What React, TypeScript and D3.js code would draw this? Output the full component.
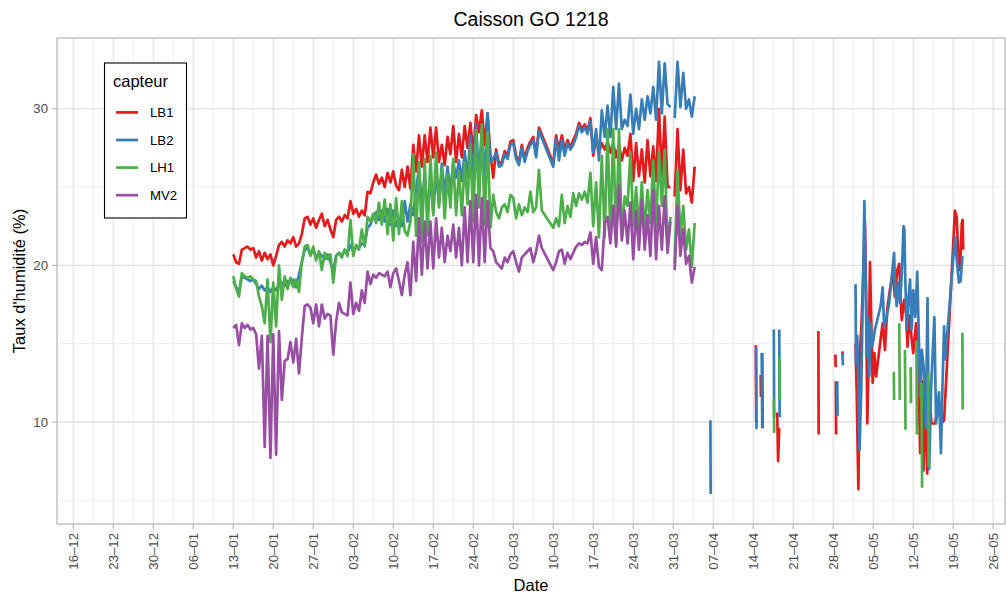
import * as d3 from 'd3';

// capteurs
const sensors = ['LB1', 'LB2', 'LH1', 'MV2'];
const colors = ['#E41A1C', '#377EB8', '#4DAF4A', '#984EA3'];

// relevés continus : un point toutes les 12 h (null = relevé manquant)
const STEP_HOURS = 12;
const mainStarts = ['2019-01-13T00:00:00Z', '2019-03-31T06:00:00Z'];

const lb1Main = [
  20.7, 20.2, 20.1, 21.0, 21.1, 21.2, 21.0, 21.1, 20.5, 20.9,
  20.3, 20.8, 20.4, 20.7, 20.0, 20.6, 21.3, 21.5, 21.2, 21.6,
  21.4, 21.8, 21.2, 21.4, 22.0, 23.0, 23.1, 22.6, 23.0, 22.4,
  22.9, 23.3, 22.5, 22.9, 22.3, 21.8, 22.9, 23.1, 22.8, 23.2,
  23.0, 24.1, 23.3, 23.6, 23.1, 23.5, 23.2, 24.7, 24.6, 25.3,
  25.8, 25.2, 25.6, 25.0, 25.9, 25.3, 26.0, 25.1, 24.8, 26.1,
  25.0, 26.3, 24.9, 27.7, 26.0, 28.3, 26.3, 28.3, 26.6, 28.8,
  26.9, 28.8, 26.6, 27.7, 26.4, 28.2, 27.1, 28.9, 26.6, 28.4,
  26.9, 28.9, 27.5, 29.1, 27.1, 29.6, 28.5, 29.9, 27.7, 29.7,
  27.1, 25.6, 27.4, 26.5, 26.6, 27.3, 27.0, 27.9, 28.0, 27.0,
  26.6, 27.7, 26.8, 27.5, 27.9, 28.2, 27.1, 28.8, null, null,
  null, null, 26.5, 28.3, 27.4, 28.3, 27.4, 28.0, 27.5, 28.0,
  28.4, 29.1, 28.7, 29.0, 28.6, 29.4, 27.0, 28.2, 27.2, 27.8,
  27.4, 27.9, 27.2, 27.8, 26.9, 27.7, 26.7, 27.5, 27.0, 28.4,
  25.4, 27.8, 25.7, 27.4, 25.3, 28.0, 25.7, 27.6, 25.4, 30.0,
  25.7, 29.5, 25.0, 25.0,
];
const lb1End = [24.4, 28.7, 24.8, 27.4, 24.6, 25.0, 24.0, 26.3];

const lb2Main = [
  19.0, 18.6, 18.3, 19.3, 19.2, 19.1, 19.0, 19.1, 18.8, 18.5,
  18.7, 18.4, 18.6, 18.3, 18.6, 18.4, 18.8, 18.9, 18.7, 19.0,
  18.9, 19.1, 18.6, 19.4, 20.2, 21.0, 21.1, 20.7, 21.0, 20.5,
  20.8, 20.6, 20.4, 20.7, 20.2, 19.6, 20.6, 20.8, 20.6, 21.0,
  20.8, 21.3, 20.9, 21.2, 21.1, 21.4, 21.3, 22.4, 22.6, 23.1,
  23.4, 22.9, 23.5, 22.8, 23.6, 22.6, 23.5, 22.5, 23.0, 22.5,
  24.1, 22.8, 23.9, 23.2, 24.9, 26.2, 23.9, 25.6, 23.7, 25.4,
  23.4, 26.0, 23.9, 26.5, 24.5, 26.3, 24.7, 26.6, 25.6, 26.7,
  25.4, 27.3, 25.6, 28.3, 25.1, 29.0, 25.6, 28.6, 25.4, 29.7,
  26.6, 26.8, 27.2, 26.3, 26.4, 27.1, 26.8, 27.7, 27.8, 26.8,
  26.4, 27.5, 26.6, 27.3, 27.7, 28.0, 26.9, 28.6, null, null,
  null, null, 26.3, 28.1, 26.7, 28.0, 27.0, 27.8, 27.4, 27.7,
  28.2, 28.9, 28.5, 28.8, 28.4, 29.2, 27.2, 28.7, 26.7, 29.9,
  28.2, 30.2, 28.2, 31.4, 28.7, 31.6, 28.7, 29.3, 28.9, 30.9,
  28.4, 30.0, 28.7, 30.6, 29.3, 30.8, 29.7, 31.4, 29.3, 33.0,
  29.7, 32.9, 30.3, 30.1,
];
const lb2End = [29.4, 33.0, 30.1, 32.3, 30.0, 30.6, 29.5, 30.8];

const lh1Main = [
  19.3, 18.5, 18.0, 19.5, 19.3, 19.2, 19.3, 19.1, 19.0, 18.0,
  17.4, 16.3, 19.1, 15.1, 18.9, 16.1, 20.0, 17.8, 19.3, 18.5,
  19.2, 18.6, 19.1, 18.3, 20.2, 21.2, 21.3, 20.6, 21.2, 20.3,
  20.9, 19.7, 20.8, 20.4, 20.7, 18.9, 20.6, 20.8, 20.5, 21.0,
  20.6, 22.9, 20.6, 21.3, 21.0, 22.3, 21.2, 23.1, 22.8, 23.3,
  22.7, 24.0, 22.6, 24.2, 22.0, 23.9, 21.6, 24.3, 22.0, 24.1,
  22.2, 21.9, 22.8, 27.1, 21.9, 26.6, 21.5, 26.8, 21.9, 27.0,
  23.2, 27.2, 23.7, 26.2, 23.0, 25.8, 23.7, 26.8, 23.2, 26.0,
  23.2, 26.6, 23.9, 27.7, 22.8, 28.6, 23.7, 29.0, 22.6, 28.5,
  22.4, 24.5, 23.4, 23.0, 23.7, 23.9, 23.4, 24.5, 24.3, 23.0,
  23.9, 23.2, 23.7, 23.4, 24.7, 23.4, 23.7, 26.1, 23.5, null,
  null, null, 22.4, 23.0, 22.5, 24.5, 22.7, 23.8, 23.1, 24.6,
  23.8, 24.6, 24.2, 24.7, 24.0, 25.9, 22.5, 25.3, 21.8, 27.0,
  21.8, 28.7, 21.8, 28.7, 21.4, 28.7, 21.8, 24.4, 23.8, 27.2,
  22.5, 25.0, 22.3, 25.3, 22.1, 24.8, 22.7, 26.7, 22.5, 27.2,
  23.8, 27.4, 21.0, 23.1,
];
const lh1End = [20.1, 26.1, 21.8, 23.8, 21.0, 22.3, 19.9, 22.7];

const mv2Main = [
  16.0, 16.2, 14.9, 16.3, 16.0, 16.2, 15.9, 16.0, 15.6, 13.4,
  15.5, 8.4, 15.5, 7.7, 15.6, 7.9, 15.8, 11.4, 13.9, 14.0,
  15.1, 13.8, 15.3, 13.1, 15.4, 17.4, 17.5, 17.3, 16.3, 17.5,
  16.1, 17.5, 16.6, 16.9, 16.8, 14.3, 16.4, 17.6, 17.0, 16.9,
  16.8, 18.9, 16.9, 17.6, 17.1, 18.4, 17.6, 19.6, 18.8, 19.4,
  19.2, 19.5, 19.4, 19.3, 19.6, 18.6, 19.5, 19.8, 19.0, 18.1,
  19.4, 20.2, 18.1, 21.5, 19.0, 23.0, 19.4, 22.8, 19.8, 22.8,
  19.8, 23.0, 20.5, 22.4, 20.2, 21.9, 20.9, 22.6, 20.5, 22.4,
  20.0, 23.7, 20.2, 24.1, 20.2, 24.5, 20.0, 24.3, 20.2, 24.1,
  21.1, 20.9, 20.2, 20.0, 19.8, 20.5, 20.2, 20.7, 20.9, 20.2,
  19.6, 20.5, 20.7, 20.9, 21.1, 20.2, 20.9, 21.9, 21.1, null,
  null, null, 19.7, 20.2, 20.9, 21.0, 20.1, 20.8, 20.4, 20.8,
  21.2, 21.4, 21.3, 21.5, 21.4, 22.1, 20.1, 21.8, 19.9, 19.7,
  22.7, 23.1, 21.4, 23.8, 21.2, 25.1, 21.6, 23.5, 21.4, 24.0,
  20.4, 23.5, 21.0, 24.2, 21.0, 23.2, 20.6, 24.8, 20.4, 23.8,
  21.0, 24.4, 20.8, 22.8,
];
const mv2End = [19.7, 23.8, 20.6, 22.3, 20.1, 20.6, 18.9, 19.9];

// relevés épars d'avril-mai : [jours depuis le 13-01, valeur]
const lb1Spikes: [number, number][][] = [
  [[91.45, 14.9], [91.52, 10.0]],
  [[92.3, 13.0], [92.35, 11.6]],
  [[92.58, 14.4], [92.65, 9.6]],
  [[95.2, 10.6], [95.35, 7.5], [95.55, 9.6]],
  [[102.4, 15.8], [102.45, 9.2]],
  [[105.38, 14.3], [105.42, 13.5]],
  [[105.45, 12.6], [105.5, 9.2]],
  [[106.62, 14.5], [106.66, 14.3]],
  [
    [108.9, 15.0], [109.1, 12.0], [109.4, 5.7], [109.65, 14.2], [109.95, 16.3],
    [110.25, 19.5], [110.55, 22.7], [110.75, 18.4], [110.96, 9.9], [111.2, 14.2],
    [111.43, 20.2], [111.66, 16.3], [111.9, 12.5], [112.2, 14.4], [112.5, 12.9],
    [113.3, 15.3], [113.65, 16.3], [114.05, 14.6], [114.45, 17.2], [114.9, 18.4],
    [115.4, 19.5], [115.8, 18.0], [116.2, 19.7], [116.55, 20.1], [116.8, 17.8],
    [117.0, 16.5], [117.4, 17.8], [117.75, 16.9], [118.0, 14.8], [118.3, 16.8],
    [118.7, 15.4], [119.0, 14.4], [119.5, 16.3], [119.9, 14.2], [120.2, 8.0],
    [120.5, 12.6], [120.8, 6.9], [121.05, 12.0], [121.45, 6.7], [121.8, 11.6],
    [122.2, 9.9], [122.8, 9.9], [123.4, 11.0], [123.9, 9.9], [124.4, 10.1],
    [126.3, 23.5], [126.6, 23.1], [126.9, 20.6], [127.2, 19.7], [127.5, 22.7],
    [127.65, 22.9], [127.75, 21.0],
  ],
];

const lb2Spikes: [number, number][][] = [
  [[83.5, 10.1], [83.55, 5.4]],
  [[91.5, 14.8], [91.58, 9.6], [91.75, 9.6]],
  [[92.48, 14.4], [92.58, 9.6]],
  [[94.6, 15.9], [94.66, 10.3]],
  [[95.55, 15.9], [95.62, 10.3]],
  [[105.7, 12.6], [105.75, 10.4]],
  [[106.6, 14.4], [106.7, 13.6]],
  [
    [108.9, 18.8], [109.0, 13.7], [109.2, 15.5], [109.4, 12.5], [109.6, 8.2],
    [109.9, 12.0], [110.3, 20.6], [110.45, 24.1], [110.7, 18.4], [110.85, 14.2],
    [111.1, 16.7], [111.3, 12.9], [111.55, 16.3], [111.8, 14.8], [112.0, 15.2],
    [112.3, 15.9], [113.3, 17.4], [113.65, 18.6], [113.9, 16.1], [114.35, 16.7],
    [114.8, 17.6], [115.05, 18.6], [115.4, 19.9], [115.65, 20.8], [115.8, 18.9],
    [116.1, 17.4], [116.4, 18.9], [116.7, 17.6], [117.0, 19.5], [117.3, 22.5],
    [117.45, 22.3], [117.6, 19.3], [117.85, 15.9], [118.15, 17.8], [118.45, 19.1],
    [118.7, 15.9], [119.0, 18.4], [119.35, 16.7], [119.7, 19.6], [119.95, 15.9],
    [120.2, 11.6], [120.5, 14.6], [120.8, 13.6], [121.2, 9.6], [121.5, 17.9],
    [121.8, 7.0], [122.1, 12.0], [122.7, 16.7], [123.0, 9.9], [123.5, 11.9],
    [123.85, 8.0], [124.1, 12.0], [124.4, 16.1], [124.6, 14.0], [126.3, 21.8],
    [126.7, 20.0], [127.0, 18.9], [127.3, 19.0], [127.6, 20.6],
  ],
];

const lh1Spikes: [number, number][][] = [
  [[94.6, 11.5], [94.66, 9.3]],
  [[95.6, 14.1], [95.66, 11.4]],
  [[115.6, 13.2], [115.65, 11.4]],
  [[116.55, 16.3], [116.65, 11.4]],
  [[117.55, 14.6], [117.65, 9.5]],
  [[118.55, 13.5], [118.6, 11.2]],
  [[119.55, 15.2], [119.65, 9.2]],
  [[120.45, 12.5], [120.55, 5.8]],
  [[121.6, 13.1], [121.7, 7.1]],
  [[127.6, 15.7], [127.65, 10.8]],
];

const mv2Spikes: [number, number][][] = [];

const mainValues = [
  [lb1Main, lb1End],
  [lb2Main, lb2End],
  [lh1Main, lh1End],
  [mv2Main, mv2End],
];
const spikeValues = [lb1Spikes, lb2Spikes, lh1Spikes, mv2Spikes];

const yMajor = [10, 20, 30];
const yMinor = [5, 15, 25];

const DAY = 86400000;
const T0 = Date.UTC(2019, 0, 13);
const atDay = (d: number) => new Date(T0 + d * DAY);

type Pt = [Date, number];

const W = 1006;
const H = 595;
const P = { left: 57, right: 1005, top: 38, bottom: 524 };
const FONT = "'Liberation Sans', Arial, Helvetica, sans-serif";

export default function App() {
  const x = d3.scaleUtc().domain([atDay(-30.85), atDay(135.06)]).range([P.left, P.right]);
  const y = d3.scaleLinear().domain([3.48, 34.52]).range([P.bottom, P.top]);

  const xTicks = x.ticks(d3.utcSunday.every(1)!);
  const xMinor = xTicks
    .map((t) => new Date(+t - 3.5 * DAY))
    .concat([new Date(+xTicks[xTicks.length - 1] + 3.5 * DAY)])
    .filter((t) => x(t) > P.left && x(t) < P.right);
  const fmt = d3.utcFormat('%d–%m');

  const line = d3
    .line<Pt>()
    .x((d) => x(d[0]))
    .y((d) => y(d[1]));

  const paths = sensors.map((s, si) => {
    const segs: Pt[][] = [];
    mainValues[si].forEach((vals, k) => {
      const t0 = new Date(mainStarts[k]).getTime();
      const pts: Pt[] = [];
      vals.forEach((v, i) => {
        if (v !== null) pts.push([new Date(t0 + i * STEP_HOURS * 3600000), v as number]);
      });
      segs.push(pts);
    });
    spikeValues[si].forEach((seg) => segs.push(seg.map((p) => [atDay(p[0]), p[1]] as Pt)));
    return segs.map((seg) => line(seg) || '');
  });

  return (
    <svg
      width={W}
      height={H}
      style={{ position: 'absolute', left: 0, top: 0, background: '#fff' }}
      fontFamily={FONT}
    >
      <rect x={0} y={0} width={W} height={H} fill="#fff" />
      {/* grille */}
      {xMinor.map((t, i) => (
        <line key={'xm' + i} x1={x(t)} x2={x(t)} y1={P.top} y2={P.bottom} stroke="#E3E3E3" strokeWidth={0.6} />
      ))}
      {yMinor.map((v) => (
        <line key={'ym' + v} x1={P.left} x2={P.right} y1={y(v)} y2={y(v)} stroke="#E3E3E3" strokeWidth={0.6} />
      ))}
      {xTicks.map((t, i) => (
        <line key={'xg' + i} x1={x(t)} x2={x(t)} y1={P.top} y2={P.bottom} stroke="#DEDEDE" strokeWidth={1.1} />
      ))}
      {yMajor.map((v) => (
        <line key={'yg' + v} x1={P.left} x2={P.right} y1={y(v)} y2={y(v)} stroke="#DEDEDE" strokeWidth={1.1} />
      ))}

      {/* séries */}
      {paths.map((segs, si) =>
        segs.map((d, k) => (
          <path
            key={sensors[si] + k}
            d={d}
            fill="none"
            stroke={colors[si]}
            strokeWidth={2.7}
            strokeLinejoin="round"
          />
        ))
      )}

      <rect
        x={P.left}
        y={P.top}
        width={P.right - P.left}
        height={P.bottom - P.top}
        fill="none"
        stroke="#B3B3B3"
        strokeWidth={1.2}
      />

      {/* axe x */}
      {xTicks.map((t, i) => (
        <g key={'xt' + i}>
          <line x1={x(t)} x2={x(t)} y1={P.bottom} y2={P.bottom + 5} stroke="#B3B3B3" strokeWidth={1.1} />
          <text
            transform={`translate(${x(t)},${P.bottom + 9}) rotate(-90)`}
            textAnchor="end"
            dy="0.35em"
            fontSize={13.2}
            fill="#4D4D4D"
          >
            {fmt(t)}
          </text>
        </g>
      ))}
      {/* axe y */}
      {yMajor.map((v) => (
        <g key={'yt' + v}>
          <line x1={P.left - 5} x2={P.left} y1={y(v)} y2={y(v)} stroke="#B3B3B3" strokeWidth={1.1} />
          <text x={P.left - 9} y={y(v)} dy="0.35em" textAnchor="end" fontSize={13.2} fill="#4D4D4D">
            {v}
          </text>
        </g>
      ))}

      <text x={(P.left + P.right) / 2} y={591} textAnchor="middle" fontSize={16.5} fill="#000">
        Date
      </text>
      <text
        transform={`translate(25,${(P.top + P.bottom) / 2}) rotate(-90)`}
        textAnchor="middle"
        fontSize={16.5}
        fill="#000"
      >
        Taux d'humidité (%)
      </text>
      <text x={(P.left + P.right) / 2} y={26} textAnchor="middle" fontSize={19.5} fill="#000">
        Caisson GO 1218
      </text>

      {/* légende */}
      <g>
        <rect x={104.5} y={63} width={82} height={155} fill="#fff" stroke="#000" strokeWidth={1.1} />
        <text x={113} y={87} fontSize={16.5} fill="#000">
          capteur
        </text>
        {sensors.map((s, i) => {
          const ky = 112.4 + i * 27.6;
          return (
            <g key={'lg' + s}>
              <line x1={116} x2={138} y1={ky} y2={ky} stroke={colors[i]} strokeWidth={2.7} />
              <text x={150} y={ky} dy="0.35em" fontSize={13.2} fill="#000">
                {s}
              </text>
            </g>
          );
        })}
      </g>
    </svg>
  );
}
